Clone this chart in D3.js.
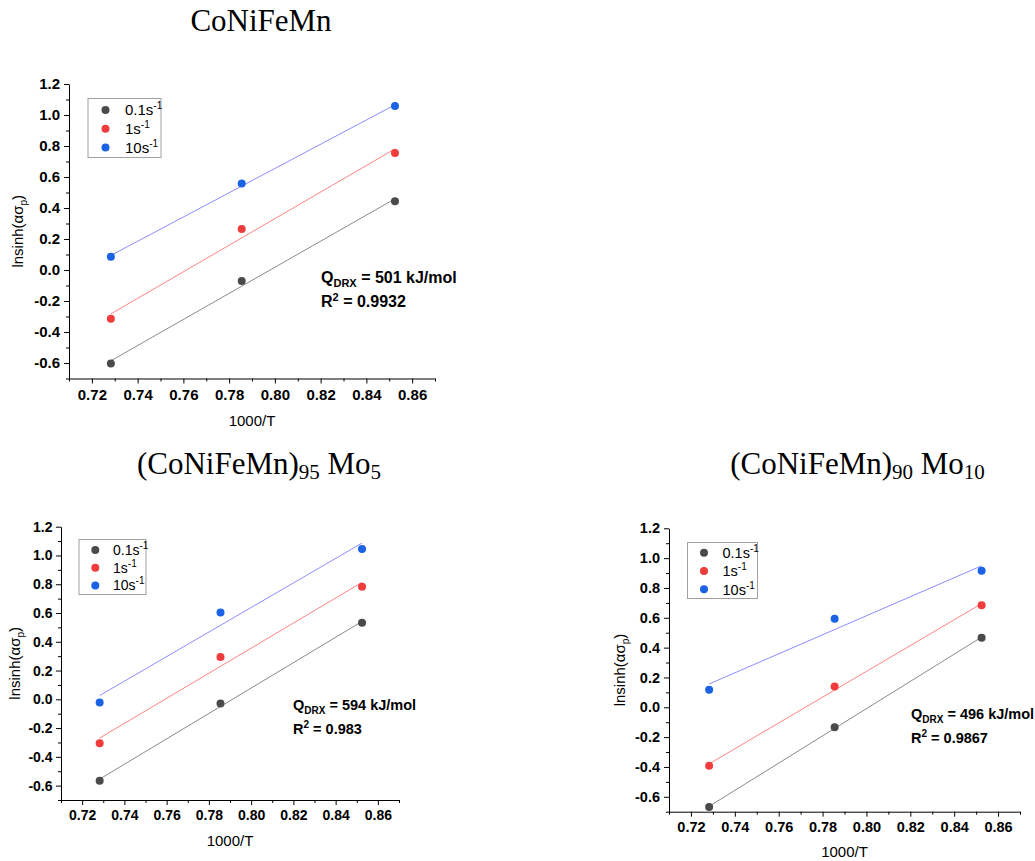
<!DOCTYPE html>
<html>
<head>
<meta charset="utf-8">
<script src="https://cdn.jsdelivr.net/npm/d3@7"></script>
<style>
  html, body { margin: 0; padding: 0; background: #fff; }
  svg { display: block; }
</style>
</head>
<body>
<svg id="chart" width="1035" height="861"></svg>
<script>
// ---------- data ----------
const xValues = [0.7283, 0.7855, 0.8525];            // 1000/T
const rateLabels = ["0.1s", "1s", "10s"];           // strain rates (with superscript -1)

// CoNiFeMn
const baseRate01 = [-0.604, -0.071, 0.444];
const baseRate1  = [-0.314, 0.264, 0.755];
const baseRate10 = [0.085, 0.558, 1.058];

// (CoNiFeMn)95 Mo5
const mo5Rate01 = [-0.566, -0.029, 0.532];
const mo5Rate1  = [-0.305, 0.295, 0.783];
const mo5Rate10 = [-0.022, 0.604, 1.045];

// (CoNiFeMn)90 Mo10
const mo10Rate01 = [-0.668, -0.134, 0.467];
const mo10Rate1  = [-0.392, 0.139, 0.684];
const mo10Rate10 = [0.117, 0.594, 0.915];

const xTicks = [0.72, 0.74, 0.76, 0.78, 0.80, 0.82, 0.84, 0.86];
const xMinorTicks = [0.71, 0.73, 0.75, 0.77, 0.79, 0.81, 0.83, 0.85, 0.87];
const yTicks = [-0.6, -0.4, -0.2, 0.0, 0.2, 0.4, 0.6, 0.8, 1.0, 1.2];
const yMinorTicks = [-0.7, -0.5, -0.3, -0.1, 0.1, 0.3, 0.5, 0.7, 0.9, 1.1];

const qValues = ["501", "594", "496"];
const r2Values = ["0.9932", "0.983", "0.9867"];

// ---------- styles ----------
const pointColors = ["#4a4a4a", "#f03c3c", "#1c62e4"];
const lineColors  = ["#8a8a8a", "#ff8484", "#8c8cff"];
const sans = "'Liberation Sans', Arial, sans-serif";
const serif = "'Liberation Serif', 'Times New Roman', serif";

const svg = d3.select("#chart");

function linReg(xs, ys) {
  const mx = d3.mean(xs), my = d3.mean(ys);
  let sxy = 0, sxx = 0;
  xs.forEach((x, i) => { sxy += (x - mx) * (ys[i] - my); sxx += (x - mx) * (x - mx); });
  const b = sxy / sxx;
  return { slope: b, intercept: my - b * mx };
}

function drawPanel(cfg) {
  const g = svg.append("g");
  const x = d3.scaleLinear().domain([0.71, 0.87]).range([cfg.left, cfg.right]);
  const y = d3.scaleLinear().domain([-0.7, 1.2]).range([cfg.bottom, cfg.top]);

  // minor ticks
  g.append("g").attr("transform", `translate(0,${cfg.bottom})`)
    .call(d3.axisBottom(x).tickValues(xMinorTicks).tickSize(3).tickFormat(""))
    .call(a => a.select(".domain").remove());
  g.append("g").attr("transform", `translate(${cfg.left},0)`)
    .call(d3.axisLeft(y).tickValues(yMinorTicks).tickSize(3).tickFormat(""))
    .call(a => a.select(".domain").remove());

  // major axes
  const xa = g.append("g").attr("transform", `translate(0,${cfg.bottom})`)
    .call(d3.axisBottom(x).tickValues(xTicks).tickSize(5).tickSizeOuter(0)
      .tickPadding(cfg.xPad).tickFormat(d => d.toFixed(2)));
  const ya = g.append("g").attr("transform", `translate(${cfg.left},0)`)
    .call(d3.axisLeft(y).tickValues(yTicks).tickSize(5).tickSizeOuter(0)
      .tickPadding(cfg.yPad).tickFormat(d => d.toFixed(1)));
  [xa, ya].forEach(a => {
    a.selectAll("text").style("font-family", sans).style("font-weight", "bold")
      .style("font-size", cfg.tickFont + "px").attr("fill", "#000");
    a.selectAll("line").attr("stroke", "#000");
    a.select(".domain").attr("stroke", "#000");
  });

  // axis titles
  g.append("text").attr("x", (cfg.left + cfg.right) / 2).attr("y", cfg.xTitleY)
    .attr("text-anchor", "middle").style("font-family", sans).style("font-size", "15px")
    .text("1000/T");
  const yt = g.append("text")
    .attr("transform", `translate(${cfg.yTitleX},${(cfg.top + cfg.bottom) / 2}) rotate(-90)`)
    .attr("text-anchor", "middle").style("font-family", sans).style("font-size", "15px");
  yt.append("tspan").text("lnsinh(ασ");
  yt.append("tspan").attr("dy", 4).style("font-size", "10px").text("p");
  yt.append("tspan").attr("dy", -4).text(")");

  // fit lines + points
  cfg.series.forEach((ys, i) => {
    const r = linReg(xValues, ys);
    const x0 = d3.min(xValues), x1 = d3.max(xValues);
    g.append("line")
      .attr("x1", x(x0)).attr("y1", y(r.intercept + r.slope * x0))
      .attr("x2", x(x1)).attr("y2", y(r.intercept + r.slope * x1))
      .attr("stroke", lineColors[i]).attr("stroke-width", 1);
  });
  cfg.series.forEach((ys, i) => {
    g.selectAll(null).data(ys).enter().append("circle")
      .attr("cx", (d, j) => x(xValues[j])).attr("cy", d => y(d))
      .attr("r", 4).attr("fill", pointColors[i]);
  });

  // legend
  const L = cfg.legend;
  g.append("rect").attr("x", L.x).attr("y", L.y).attr("width", L.w).attr("height", L.h)
    .attr("fill", "#fff").attr("stroke", "#a0a0a0").attr("stroke-width", 1);
  rateLabels.forEach((lab, i) => {
    const cy = L.y + L.first + i * L.step;
    g.append("circle").attr("cx", L.x + L.dotDx).attr("cy", cy).attr("r", 4).attr("fill", pointColors[i]);
    const t = g.append("text").attr("x", L.x + L.textDx).attr("y", cy + L.font * 0.36)
      .style("font-family", sans).style("font-size", L.font + "px");
    t.append("tspan").text(lab);
    t.append("tspan").attr("dy", -6).style("font-size", "10px").text("-1");
  });

  // annotation
  const A = cfg.annot;
  const q = g.append("text").attr("x", A.x).attr("y", A.y1)
    .style("font-family", sans).style("font-weight", "bold").style("font-size", A.font + "px");
  q.append("tspan").text("Q");
  q.append("tspan").attr("dy", 4).style("font-size", A.sub + "px").text("DRX");
  q.append("tspan").attr("dy", -4).text(` = ${cfg.q} kJ/mol`);
  const r2 = g.append("text").attr("x", A.x).attr("y", A.y2)
    .style("font-family", sans).style("font-weight", "bold").style("font-size", A.font + "px");
  r2.append("tspan").text("R");
  r2.append("tspan").attr("dy", -6).style("font-size", A.sub + "px").text("2");
  r2.append("tspan").attr("dy", 6).text(` = ${cfg.r2}`);
}

drawPanel({
  left: 69, right: 435, top: 84, bottom: 378.5,
  tickFont: 15, xPad: 6, yPad: 4, xTitleY: 426, yTitleX: 23,
  series: [baseRate01, baseRate1, baseRate10],
  legend: { x: 88, y: 98.5, w: 73, h: 59, first: 11.5, step: 18.8, dotDx: 17.5, textDx: 37, font: 15 },
  annot: { x: 321, y1: 283, y2: 307, font: 16, sub: 11 },
  q: qValues[0], r2: r2Values[0]
});
drawPanel({
  left: 61, right: 399, top: 526.7, bottom: 800,
  tickFont: 14, xPad: 5, yPad: 3.5, xTitleY: 846, yTitleX: 20,
  series: [mo5Rate01, mo5Rate1, mo5Rate10],
  legend: { x: 79, y: 539.5, w: 67, h: 55, first: 10.5, step: 17.7, dotDx: 16.3, textDx: 34, font: 14 },
  annot: { x: 293, y1: 710, y2: 734, font: 14.5, sub: 10 },
  q: qValues[1], r2: r2Values[1]
});
drawPanel({
  left: 669, right: 1020, top: 528.3, bottom: 811.7,
  tickFont: 14.5, xPad: 5.5, yPad: 4, xTitleY: 857, yTitleX: 625,
  series: [mo10Rate01, mo10Rate1, mo10Rate10],
  legend: { x: 687.5, y: 542.5, w: 70, h: 56, first: 10.2, step: 18.3, dotDx: 16.5, textDx: 35, font: 14.5 },
  annot: { x: 911, y1: 719, y2: 743, font: 14.5, sub: 10 },
  q: qValues[2], r2: r2Values[2]
});

// titles
svg.append("text").attr("x", 261).attr("y", 31).attr("text-anchor", "middle")
  .style("font-family", serif).style("font-size", "31px").text("CoNiFeMn");

function subTitle(cx, main, sub1, sub2) {
  const t = svg.append("text").attr("x", cx).attr("y", 474).attr("text-anchor", "middle")
    .style("font-family", serif).style("font-size", "31px");
  t.append("tspan").text(main);
  t.append("tspan").attr("dy", 5).style("font-size", "21px").text(sub1);
  t.append("tspan").attr("dy", -5).text(" Mo");
  t.append("tspan").attr("dy", 5).style("font-size", "21px").text(sub2);
}
subTitle(259, "(CoNiFeMn)", "95", "5");
subTitle(857.5, "(CoNiFeMn)", "90", "10");
</script>
</body>
</html>
